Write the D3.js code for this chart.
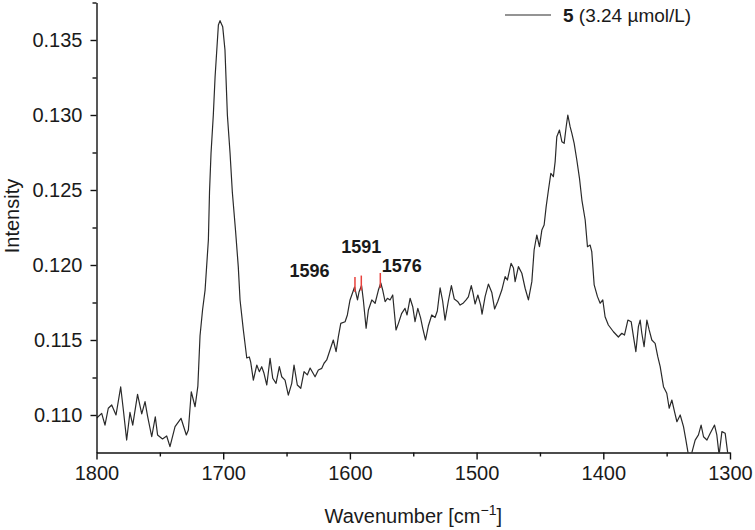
<!DOCTYPE html>
<html>
<head>
  <meta charset="utf-8">
  <title>Raman spectrum</title>
  <script src="https://d3js.org/d3.v7.min.js"></script>
  <style>
    body { margin: 0; background: #fff; }
    text { font-family: "Liberation Sans", Arial, sans-serif; fill: #1a1a1a; }
  </style>
</head>
<body>
<div id="chart"></div>
<script type="text/javascript">
  // wavenumbers (cm-1) and intensities
  let wavenumber = [
    1799.8, 1795.9, 1793.3, 1790.7, 1788.0, 1784.6, 1780.9, 1778.8, 1776.2, 1773.6,
    1771.4, 1767.6, 1764.3, 1761.7, 1759.7, 1756.4, 1753.6, 1751.8, 1747.9, 1744.6,
    1742.0, 1738.0, 1733.3, 1729.1, 1727.5, 1725.2, 1722.2, 1720.0, 1718.3, 1716.3,
    1714.3, 1711.7, 1710.8, 1709.6, 1707.8, 1706.4, 1703.8, 1702.5, 1700.4, 1698.6,
    1696.7, 1694.6, 1692.8, 1690.3, 1688.1, 1686.7, 1684.1, 1681.4, 1679.4, 1678.3,
    1676.2, 1673.5, 1671.5, 1669.6, 1667.8, 1665.6, 1663.0, 1660.9, 1658.3, 1655.7,
    1653.8, 1651.2, 1648.6, 1645.9, 1644.1, 1641.5, 1638.8, 1636.2, 1633.6, 1631.4,
    1627.5, 1624.9, 1622.2, 1620.4, 1618.3, 1615.7, 1613.1, 1610.9, 1609.1, 1607.2,
    1603.8, 1602.0, 1599.9, 1596.3, 1594.0, 1592.8, 1590.8, 1589.4, 1587.2, 1585.4,
    1582.7, 1580.1, 1577.5, 1575.6, 1574.1, 1572.2, 1570.4, 1568.3, 1566.2, 1563.6,
    1561.7, 1559.1, 1556.5, 1554.9, 1552.5, 1550.4, 1548.6, 1546.4, 1544.2, 1542.5,
    1540.3, 1538.1, 1535.4, 1532.8, 1531.0, 1528.8, 1526.8, 1524.9, 1522.3, 1519.9,
    1517.6, 1515.0, 1513.0, 1510.4, 1508.3, 1506.5, 1504.2, 1502.8, 1501.2, 1499.0,
    1496.8, 1495.7, 1493.3, 1490.7, 1488.0, 1485.8, 1483.3, 1480.1, 1477.5, 1475.7,
    1472.8, 1470.9, 1469.6, 1467.0, 1464.3, 1461.7, 1459.1, 1456.4, 1454.6, 1452.5,
    1450.4, 1448.5, 1446.7, 1445.1, 1443.3, 1441.4, 1439.4, 1438.0, 1436.7, 1434.6,
    1432.7, 1430.9, 1429.3, 1428.0, 1426.2, 1424.8, 1423.0, 1420.9, 1418.8, 1416.9,
    1414.3, 1412.5, 1410.4, 1409.1, 1407.2, 1404.6, 1402.5, 1400.4, 1398.6, 1396.0,
    1392.0, 1388.1, 1385.4, 1383.3, 1380.6, 1378.0, 1376.2, 1374.3, 1372.3, 1370.9,
    1369.6, 1367.8, 1365.6, 1363.8, 1361.7, 1359.1, 1357.0, 1355.1, 1352.5, 1349.9,
    1348.0, 1345.9, 1343.8, 1341.9, 1339.3, 1336.7, 1334.8, 1332.8, 1330.6, 1327.5,
    1324.9, 1322.8, 1320.9, 1318.2, 1315.6, 1312.2, 1310.4, 1308.6, 1306.4, 1303.8,
    1301.6, 1300.0
  ];
  let intensity = [
    0.10980, 0.11011, 0.10933, 0.11045, 0.11067, 0.11000, 0.11187, 0.11033, 0.10833, 0.11017,
    0.10933, 0.11137, 0.11007, 0.11089, 0.10993, 0.10855, 0.10987, 0.10867, 0.10840, 0.10860,
    0.10789, 0.10922, 0.10978, 0.10867, 0.10900, 0.11155, 0.11055, 0.11193, 0.11527, 0.11700,
    0.11833, 0.12167, 0.12487, 0.12747, 0.13000, 0.13255, 0.13600, 0.13629, 0.13589, 0.13433,
    0.13000, 0.12747, 0.12487, 0.12233, 0.11989, 0.11767, 0.11567, 0.11380, 0.11387, 0.11353,
    0.11233, 0.11333, 0.11289, 0.11322, 0.11278, 0.11200, 0.11378, 0.11245, 0.11211, 0.11322,
    0.11255, 0.11233, 0.11133, 0.11211, 0.11333, 0.11200, 0.11178, 0.11289, 0.11267, 0.11313,
    0.11255, 0.11300, 0.11311, 0.11345, 0.11367, 0.11433, 0.11500, 0.11422, 0.11522, 0.11611,
    0.11622, 0.11667, 0.11767, 0.11853, 0.11767, 0.11820, 0.11863, 0.11767, 0.11578, 0.11700,
    0.11767, 0.11745, 0.11833, 0.11880, 0.11833, 0.11755, 0.11778, 0.11767, 0.11800, 0.11567,
    0.11611, 0.11678, 0.11711, 0.11667, 0.11778, 0.11722, 0.11622, 0.11711, 0.11647, 0.11578,
    0.11500, 0.11593, 0.11667, 0.11650, 0.11693, 0.11847, 0.11760, 0.11633, 0.11760, 0.11863,
    0.11773, 0.11757, 0.11733, 0.11747, 0.11767, 0.11787, 0.11863, 0.11813, 0.11740, 0.11800,
    0.11733, 0.11673, 0.11789, 0.11873, 0.11817, 0.11707, 0.11757, 0.11833, 0.11922, 0.11900,
    0.12011, 0.11980, 0.11889, 0.11989, 0.11945, 0.11845, 0.11767, 0.11889, 0.12100, 0.12200,
    0.12122, 0.12233, 0.12267, 0.12389, 0.12500, 0.12611, 0.12589, 0.12689, 0.12855, 0.12900,
    0.12822, 0.12811, 0.12922, 0.13000, 0.12922, 0.12878, 0.12811, 0.12700, 0.12578, 0.12433,
    0.12300, 0.12122, 0.12133, 0.12089, 0.11867, 0.11789, 0.11745, 0.11767, 0.11655, 0.11600,
    0.11555, 0.11520, 0.11545, 0.11533, 0.11633, 0.11622, 0.11522, 0.11422, 0.11589, 0.11633,
    0.11545, 0.11455, 0.11633, 0.11567, 0.11500, 0.11478, 0.11389, 0.11322, 0.11189, 0.11145,
    0.11045, 0.11100, 0.11022, 0.10955, 0.11000, 0.10922, 0.10833, 0.10733, 0.10733, 0.10833,
    0.10867, 0.10933, 0.10855, 0.10833, 0.10878, 0.10933, 0.10867, 0.10733, 0.10889, 0.10878,
    0.10733, 0.10713
  ];

  let xTicks = [1800, 1700, 1600, 1500, 1400, 1300];
  let yTicks = [0.110, 0.115, 0.120, 0.125, 0.130, 0.135];
  let peakMarks = [1596, 1591, 1576];
  let legendLabel = ['5', ' (3.24 \u00b5mol/L)'];

  let w = 755, h = 530;
  let mLeft = 96.5, mRight = 730, mTop = 2.5, mBottom = 452.5;

  let xScale = d3.scaleLinear().domain([1800, 1300]).range([mLeft, mRight]);
  let yScale = d3.scaleLinear().domain([0.1075, 0.1375]).range([mBottom, mTop]);

  let svg = d3.select('#chart').append('svg')
              .attr('width', w).attr('height', h);

  svg.append('clipPath').attr('id', 'plot')
     .append('rect')
     .attr('x', mLeft).attr('y', mTop)
     .attr('width', mRight - mLeft).attr('height', mBottom - mTop);

  let data = wavenumber.map((x, i) => [x, intensity[i]]);

  // spectrum
  svg.append('path')
     .datum(data)
     .attr('clip-path', 'url(#plot)')
     .attr('fill', 'none')
     .attr('stroke', '#2a2a2a')
     .attr('stroke-width', 1.2)
     .attr('stroke-linejoin', 'round')
     .attr('d', d3.line().x(d => xScale(d[0])).y(d => yScale(d[1])));

  // minor ticks
  let minorX = d3.range(1750, 1300, -100);
  let minorY = d3.range(0.1125, 0.1375, 0.005);

  let xAxis = d3.axisBottom(xScale).tickValues(xTicks).tickFormat(d3.format('d'))
                .tickSize(7).tickSizeOuter(0).tickPadding(6);
  svg.append('g').attr('transform', `translate(0,${mBottom})`).call(xAxis);
  svg.append('g').attr('transform', `translate(0,${mBottom})`)
     .call(d3.axisBottom(xScale).tickValues(minorX).tickSize(4).tickFormat(''))
     .select('.domain').remove();

  let yAxis = d3.axisLeft(yScale).tickValues(yTicks).tickFormat(d3.format('.3f'))
                .tickSize(6).tickSizeOuter(0).tickPadding(8);
  svg.append('g').attr('transform', `translate(${mLeft},0)`).call(yAxis);
  svg.append('g').attr('transform', `translate(${mLeft},0)`)
     .call(d3.axisLeft(yScale).tickValues(minorY).tickSize(4).tickFormat(''))
     .select('.domain').remove();

  svg.selectAll('.domain, .tick line')
     .attr('stroke', '#111').attr('stroke-width', 1.4);
  svg.selectAll('.tick text')
     .attr('font-size', 20).attr('fill', '#1a1a1a')
     .style('font-family', '"Liberation Sans", Arial, sans-serif');

  // axis titles
  let xt = svg.append('text')
     .attr('x', (mLeft + mRight) / 2)
     .attr('y', 523)
     .attr('text-anchor', 'middle')
     .attr('font-size', 20);
  xt.append('tspan').text('Wavenumber [cm');
  xt.append('tspan').text('\u22121').attr('font-size', 14).attr('dy', -8);
  xt.append('tspan').text(']').attr('dy', 8);

  svg.append('text')
     .attr('transform', 'translate(18.5,216) rotate(-90)')
     .attr('text-anchor', 'middle')
     .attr('font-size', 20)
     .text('Intensity');

  // legend
  svg.append('line')
     .attr('x1', 505).attr('x2', 551).attr('y1', 15).attr('y2', 15)
     .attr('stroke', '#2a2a2a').attr('stroke-width', 1.2);
  let lt = svg.append('text').attr('x', 563).attr('y', 22).attr('font-size', 19);
  lt.append('tspan').attr('font-weight', 'bold').text(legendLabel[0]);
  lt.append('tspan').text(legendLabel[1]);

  // peak markers and labels
  let peakValue = wn => {
    let i = d3.minIndex(wavenumber, x => Math.abs(x - wn));
    return intensity[i];
  };
  let labelOffset = { 1596: [-45.5, -10, 'middle'], 1591: [0, -33, 'middle'], 1576: [1.5, -11, 'start'] };

  peakMarks.forEach(wn => {
    let px = xScale(wn), py = yScale(peakValue(wn));
    svg.append('line')
       .attr('x1', px).attr('x2', px)
       .attr('y1', py - 10).attr('y2', py + 5)
       .attr('stroke', '#e8413c').attr('stroke-width', 1.5);
    let [dx, dy, anchor] = labelOffset[wn];
    svg.append('text')
       .attr('x', px + dx).attr('y', py + dy)
       .attr('text-anchor', anchor)
       .attr('font-size', 18).attr('font-weight', 'bold')
       .text(wn);
  });
</script>
</body>
</html>
